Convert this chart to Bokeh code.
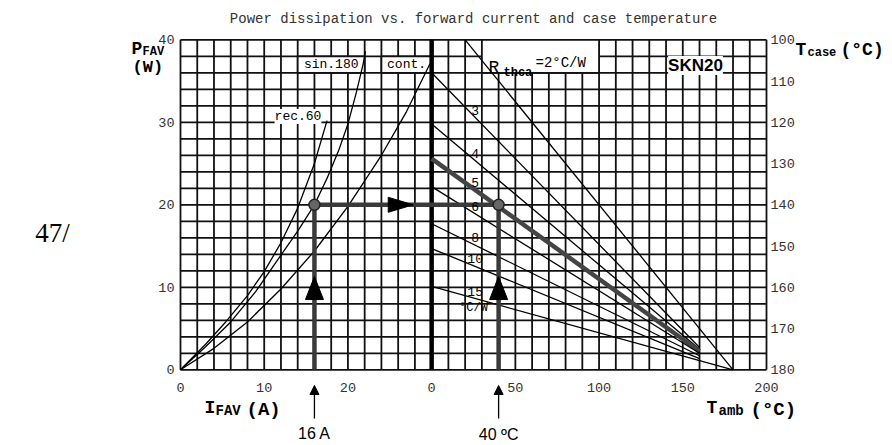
import numpy as np
from bokeh.plotting import figure
from bokeh.models import Range1d, Label, Arrow, NormalHead
from bokeh.embed import file_html
from bokeh.resources import INLINE
from bokeh.core.properties import value

# ---------------- data ----------------
title_text = "Power dissipation vs. forward current and case temperature"

i_ticks = [0, 10, 20]                    # I_FAV (A), left part
t_ticks = [0, 50, 100, 150, 200]         # T_amb (°C), right part
p_ticks = [0, 10, 20, 30, 40]            # P_FAV (W)
tcase_ticks = [100, 110, 120, 130, 140, 150, 160, 170, 180]  # T_case (°C)

# P_FAV vs I_FAV curves
rec60_i = [0, 3, 5.4, 8, 10, 12, 14, 16, 17.5]
rec60_p = [0, 3.1, 5.8, 9.0, 11.9, 15.4, 19.6, 25.0, 30.2]
sin180_i = [0, 3, 6, 9, 12, 14, 16, 17.5, 18.9, 20, 21, 21.8, 22.1]
sin180_p = [0, 2.8, 5.8, 9.5, 13.9, 16.8, 20.0, 23.2, 26.6, 29.8, 33.6, 37.0, 38.6]
cont_i = [0, 4, 8, 12, 16, 20, 24, 27, 29.8]
cont_p = [0, 2.6, 5.8, 9.8, 14.4, 19.8, 26.0, 31.3, 37.1]

# R_thca lines (T_amb, P_FAV) start / end
rthca = [2, 3, 4, 5, 6, 8, 10, 15]
rthca_t0 = [20, 0, 0, 0, 0, 0, 0, 0]
rthca_p0 = [40, 36.0, 29.8, 25.6, 22.2, 17.7, 14.7, 10.1]
rthca_t1 = [180, 160, 160, 160, 160, 160, 160, 180]
rthca_p1 = [0, 2.7, 2.5, 2.25, 2.0, 1.7, 1.35, 0]
r_highlight = 5

# worked example
op_i, op_p, op_t = 16, 20, 40

# ---------------- geometry ----------------
I_SPLIT = 30          # right edge of current scale = T_amb 0
T_PER_UNIT = 5        # 10 °C per 2 A grid cell
X_MAX = I_SPLIT + t_ticks[-1] / T_PER_UNIT
P_MAX = p_ticks[-1]

def tx(t):
    return I_SPLIT + np.asarray(t, dtype=float) / T_PER_UNIT

W, H = 892, 445
FW, FH = 586, 330          # chart grid size in pixels
FL, FT = 180.0, 39.3       # chart grid top-left in pixels
SX, SY = FW / X_MAX, FH / P_MAX
def px(x):
    return (x - FL) / SX
def py(y):
    return P_MAX - (y - FT) / SY

MONO = "Liberation Mono"
SANS = "Liberation Sans"

p = figure(width=W, height=H,
           x_range=Range1d(px(0), px(W)), y_range=Range1d(py(H), py(0)),
           min_border=0, x_axis_type=None, y_axis_type=None,
           output_backend="svg", toolbar_location=None,
           background_fill_color="white", border_fill_color="white")
p.outline_line_color = None

# grid: 2 A / 10 °C per column, 2 W per row
gx = np.arange(0, X_MAX + 0.1, 2)
gy = np.arange(0, P_MAX + 0.1, 2)
p.segment(x0=gx, y0=np.zeros_like(gx), x1=gx, y1=np.full_like(gx, P_MAX),
          line_color="#111", line_width=1.8)
p.segment(x0=np.zeros_like(gy), y0=gy, x1=np.full_like(gy, X_MAX), y1=gy,
          line_color="#111", line_width=1.8)

# tick labels
tick_kw = dict(text_font=value(MONO), text_font_size=value("13.5px"), text_color="#333")
p.text(x=np.full(len(p_ticks), -6 / SX), y=p_ticks, text=[str(v) for v in p_ticks],
       text_align="right", text_baseline="middle", **tick_kw)
tc_to_p = np.interp(tcase_ticks, [tcase_ticks[0], tcase_ticks[-1]], [P_MAX, 0])
p.text(x=np.full(len(tcase_ticks), X_MAX + 4 / SX), y=tc_to_p,
       text=[str(v) for v in tcase_ticks], text_align="left", text_baseline="middle", **tick_kw)
bottom_x = list(i_ticks) + list(tx(t_ticks))
bottom_lab = [str(v) for v in i_ticks] + [str(v) for v in t_ticks]
p.text(x=bottom_x, y=np.full(len(bottom_x), -18 / SY), text=bottom_lab,
       text_align="center", text_baseline="middle", **tick_kw)

# white label boxes in the grid
p.quad(left=[14, 24, 36], right=[22, 30, 50], bottom=[36, 36, 36], top=[38, 38, 40],
       fill_color="white", line_color="#111", line_width=1.8)

# separating thick line
p.line([I_SPLIT, I_SPLIT], [0, P_MAX], line_color="black", line_width=4.5)

# curves
for xs, ys in ((rec60_i, rec60_p), (sin180_i, sin180_p), (cont_i, cont_p)):
    p.line(xs, ys, line_color="black", line_width=1.3)

# R_thca lines
for r, t0, p0, t1, p1 in zip(rthca, rthca_t0, rthca_p0, rthca_t1, rthca_p1):
    if r == r_highlight:
        p.line(tx([t0, t1]), [p0, p1], line_color="#444", line_width=4.5)
    else:
        p.line(tx([t0, t1]), [p0, p1], line_color="black", line_width=1.3)

# worked example
op_x2 = float(tx(op_t))
ex_col = "#3a3a3a"
p.line([op_i, op_i], [0, op_p], line_color=ex_col, line_width=4.5)
p.line([op_x2, op_x2], [0, op_p], line_color=ex_col, line_width=4.5)
p.line([op_i, op_x2], [op_p, op_p], line_color=ex_col, line_width=4.5)

hw = 9 / SX       # half width of vertical arrowhead
hl = 23 / SY      # length of vertical arrowhead
tip = op_p * 0.565
for xc in (op_i, op_x2):
    p.patch([xc - hw, xc, xc + hw], [tip - hl, tip, tip - hl], fill_color="black", line_color="black")
hx_tip = I_SPLIT - 2.2
hx_len = 25 / SX
hy = 7.5 / SY
p.patch([hx_tip - hx_len, hx_tip, hx_tip - hx_len], [op_p - hy, op_p, op_p + hy],
        fill_color="black", line_color="black")
p.scatter([op_i, op_x2], [op_p, op_p], size=11, fill_color="#666", line_color="#222", line_width=1.5)

# ---------------- texts ----------------
def lab(x, y, text, size, font=MONO, align="left", base="alphabetic", style="normal",
        color="black", bg=None):
    kw = {}
    if bg:
        kw["background_fill_color"] = bg
    p.add_layout(Label(x=x, y=y, text=text, text_font=font, text_font_size=size,
                       text_align=align, text_baseline=base, text_font_style=style,
                       text_color=color, **kw))

lab(px(473), py(18), title_text, "14px", align="center", color="#333")
lab(px(52), py(232), "47/", "27px", font="Liberation Serif", align="center")

# axis titles
lab(px(131), py(48), "P", "18px", style="bold")
lab(px(142), py(51), "FAV", "12px", style="bold")
lab(px(132), py(67), "(W)", "17px", style="bold")
lab(px(795), py(49), "T", "18px", style="bold")
lab(px(807), py(52), "case", "12px", style="bold")
lab(px(840), py(49), "(°C)", "18px", style="bold")
lab(px(204), py(407), "I", "18px", style="bold")
lab(px(215), py(410), "FAV", "14px", style="bold")
lab(px(246), py(409), "(A)", "19px", style="bold")
lab(px(706), py(407), "T", "18px", style="bold")
lab(px(718), py(410), "amb", "14px", style="bold")
lab(px(750), py(409), "(°C)", "19px", style="bold")

# curve labels
lab(px(297.5), py(116), "rec.60", "13px", align="center", base="middle", bg="white")
lab(18, 37, "sin.180", "13px", align="center", base="middle")
lab(27, 37, "cont.", "13px", align="center", base="middle")
lab(px(488), py(67), "R", "18px")
lab(px(503), py(72), "thca", "12px", style="bold")
lab(px(535), py(62), "=2°C/W", "14px")
lab(px(695), py(65), "SKN20", "17px", font=SANS, align="center", base="middle", style="bold", bg="white")

# R_thca value labels
t_lab = 26
for r, t0, p0, t1, p1 in zip(rthca, rthca_t0, rthca_p0, rthca_t1, rthca_p1):
    if t0 > 0:
        continue
    yv = float(np.interp(t_lab, [t0, t1], [p0, p1])) + 0.9
    lab(float(tx(t_lab)), yv, str(r), "13px", align="center", base="middle")
    if r == rthca[-1]:
        lab(float(tx(t_lab)) - 0.2, yv - 2.0, "°C/W", "12px", align="center", base="middle")

# example labels below the axis
lab(op_i, py(433), f"{op_i} A", "16px", font=SANS, align="center")
lab(op_x2, py(434), f"{op_t} ºC", "16px", font=SANS, align="center")
for xc, y0 in ((op_i, 418), (op_x2, 418)):
    p.add_layout(Arrow(end=NormalHead(size=9, fill_color="black", line_color="black"),
                       x_start=xc, y_start=py(y0), x_end=xc, y_end=py(385),
                       line_color="black", line_width=1.3))

open("out.html", "w").write(file_html(p, INLINE))
